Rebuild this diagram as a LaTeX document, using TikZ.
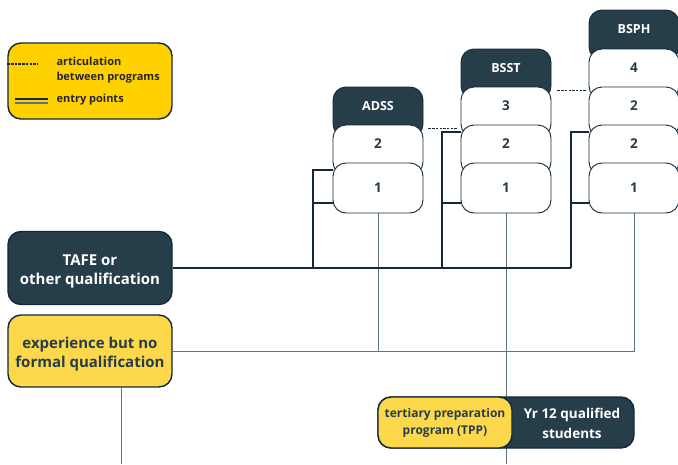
\documentclass[tikz,border=0pt]{standalone}
\usepackage{fontspec}
\setmainfont{Open Sans}
\usetikzlibrary{backgrounds}
\definecolor{slate}{HTML}{263D4A}
\definecolor{edge}{HTML}{14283A}
\definecolor{gold}{HTML}{FFD100}
\definecolor{sand}{HTML}{FDD84B}
\definecolor{wire}{HTML}{5E7482}
\tikzset{
  unit/.style={draw=edge, fill=white, text=slate, rounded corners=13pt, line width=0.9pt,
    minimum width=90pt, minimum height=50pt, inner sep=0pt,
    font=\fontsize{13.5}{15}\selectfont\bfseries},
  upper/.style={unit, text height=9.5pt, text depth=12.5pt},
  head/.style={upper, fill=slate, text=white, font=\fontsize{12.5}{14}\selectfont\bfseries},
  card/.style={draw=edge, rounded corners=13pt, line width=1.4pt, align=center, inner sep=0pt,
    font=\fontsize{15}{19}\selectfont\bfseries},
  entry/.style={draw=edge, line width=2.4pt, line cap=butt, line join=miter},
  link/.style={draw=wire, line width=1pt},
  articul/.style={draw=edge, line width=1.3pt, dash pattern=on 2.5pt off 1.2pt},
}
\begin{document}
\begin{tikzpicture}[x=1pt, y=-1pt, line join=round]
\useasboundingbox (0,0) rectangle (678,464);
\coordinate (floor) at (0,464);

\node[card, fill=gold, minimum width=164pt, minimum height=76pt] (key) at (90,81) {};
\draw[articul] (key.west |- 0,64) -- (37,64);
\draw[edge, line width=1.8pt] (15,99.3) -- (48,99.3);
\draw[wire, line width=1.8pt] (15,102.8) -- (48,102.8);
\node[anchor=west, align=left, text=black!85, font=\fontsize{11}{15}\selectfont\bfseries]
  (keyart) at (53,70.5) {articulation\\between programs};
\node[anchor=west, text=black!85, font=\fontsize{11}{15}\selectfont\bfseries]
  (keyent) at (53,100) {entry points};

\node[card, fill=slate, text=white, minimum width=164pt, minimum height=73pt, text height=37.5pt] (tafe) at (90,268) {TAFE or\\other qualification};
\node[card, fill=sand, text=slate, minimum width=164pt, minimum height=72pt, text height=37pt] (exp) at (90,351) {experience but no\\formal qualification};

\node[head] (adss) at (378,112) {ADSS};
\node[upper] (adss2) at (378,150) {2};
\node[unit] (adss1) at (378,188) {1};

\node[head] (bsst) at (506,74) {BSST};
\node[upper] (bsst3) at (506,112) {3};
\node[upper] (bsst2) at (506,150) {2};
\node[unit] (bsst1) at (506,188) {1};

\node[head] (bsph) at (634,35) {BSPH};
\node[upper] (bsph4) at (634,74) {4};
\node[upper] (bsph3) at (634,112) {2};
\node[upper] (bsph2) at (634,150) {2};
\node[unit] (bsph1) at (634,188) {1};

\node[card, fill=slate, minimum width=256pt, minimum height=51pt] (yr12) at (506,422.5) {};
\node[card, fill=sand, text=slate, minimum width=134pt, minimum height=51pt,
  font=\fontsize{12}{17}\selectfont\bfseries] (tpp) at (445,422.5) {tertiary preparation\\program (TPP)};
\node[align=center, text=white, font=\fontsize{13.5}{20}\selectfont\bfseries]
  (yr12txt) at (572,423) {Yr 12 qualified\\students};

\draw[articul] ([xshift=5pt,yshift=-4pt]adss2.north east) -- ([xshift=-4pt,yshift=-4pt]bsst2.north west);
\draw[articul] ([xshift=6pt,yshift=-4pt]bsst3.north east) -- ([xshift=-3pt,yshift=-4pt]bsph3.north west);

\foreach \b/\u/\x in {adss1/adss1/313, bsst1/bsst2/442, bsph1/bsph2/571}{
  \coordinate (j\b) at (\x,268);
  \draw[entry] (j\b) |- ([yshift=18pt]\u.west) (j\b |- 0,203) -- ([yshift=-15pt]\b.west);}
\draw[entry] (tafe.east) -- (jbsph1);

\begin{scope}[on background layer]
\draw[link] (adss1.south) -- (adss1.south |- exp.east);
\draw[link] (exp.east) -- (bsph1.south |- exp.east) -- (bsph1.south);
\draw[link] (bsst1.south) -- (bsst1.south |- floor);
\draw[link] ([xshift=31pt]exp.south) -- ([xshift=31pt]exp.south |- floor);
\end{scope}
\end{tikzpicture}
\end{document}
